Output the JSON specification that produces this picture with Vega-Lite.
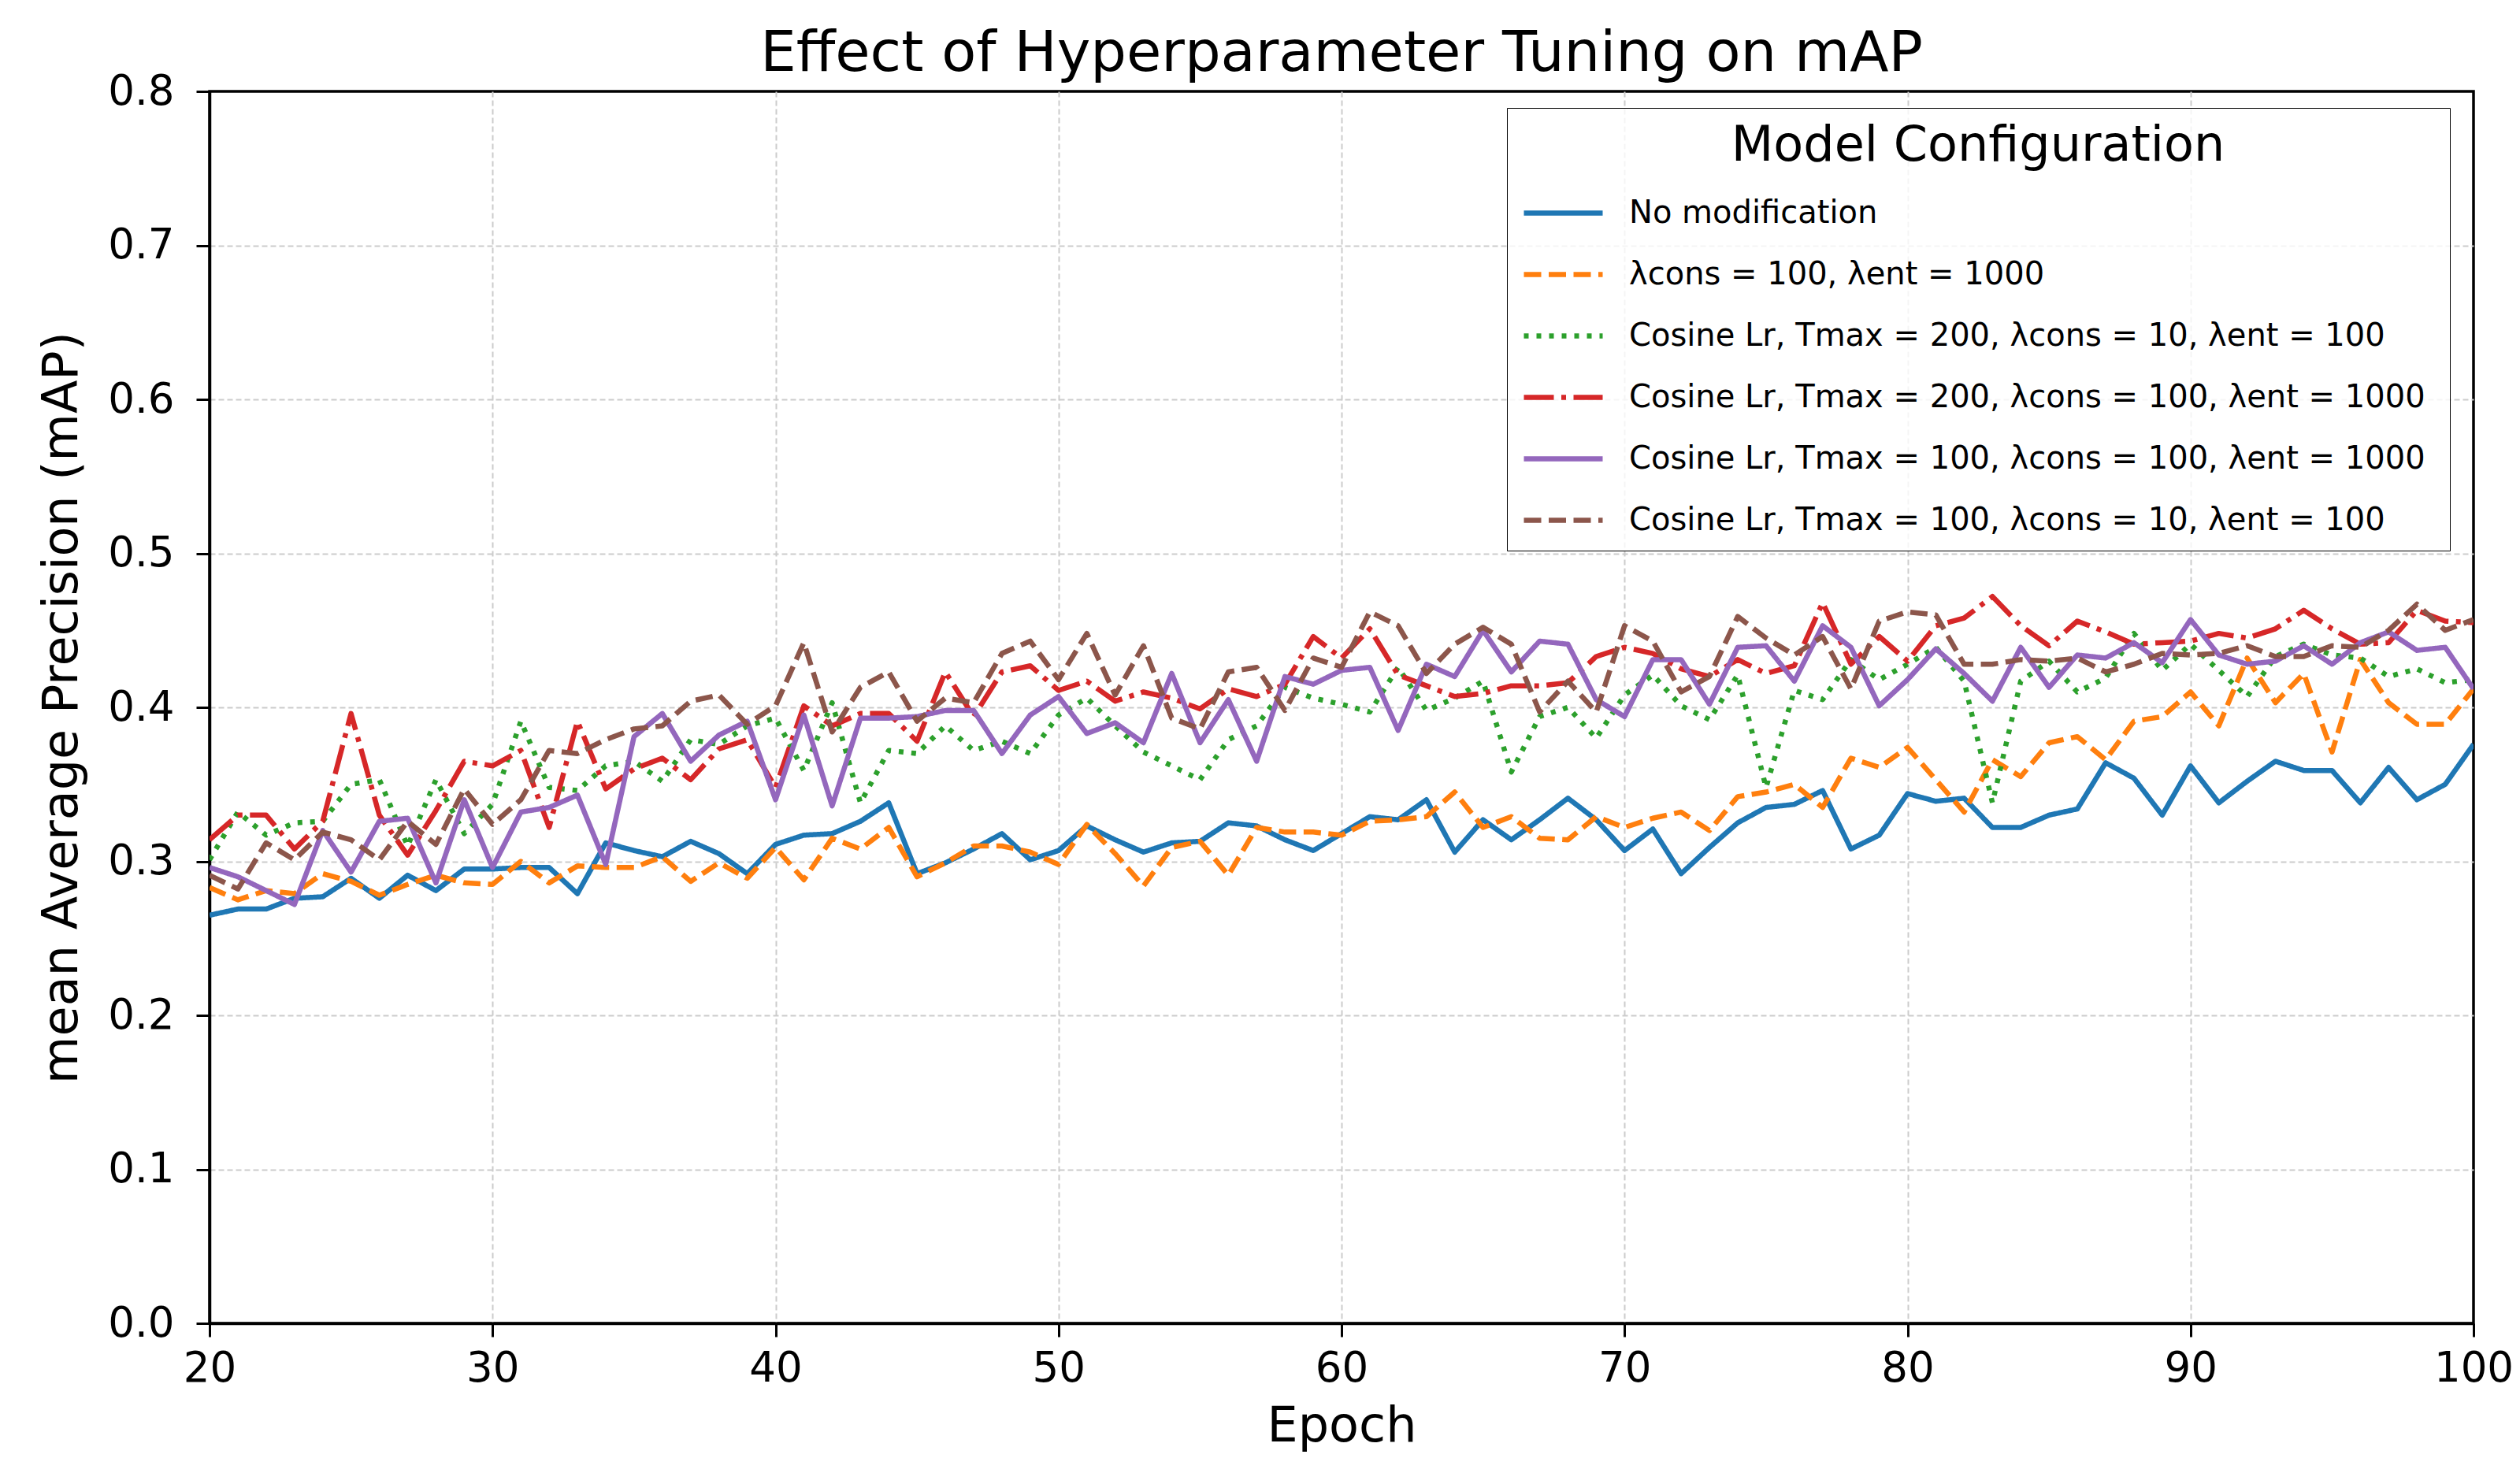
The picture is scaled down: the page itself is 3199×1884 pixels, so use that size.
{
  "$schema": "https://vega.github.io/schema/vega-lite/v6.json",
  "description": "Effect of hyperparameter tuning on mAP, six model configurations over epochs 20-100",
  "width": 2874,
  "height": 1564,
  "autosize": {"type": "none"},
  "padding": {"left": 266, "top": 116, "right": 59, "bottom": 204},
  "background": "white",
  "title": {
    "text": "Effect of Hyperparameter Tuning on mAP",
    "fontSize": 72,
    "fontWeight": "normal",
    "anchor": "middle",
    "baseline": "bottom",
    "offset": 12,
    "dy": 99,
    "color": "#000000"
  },
  "data": {
    "values": [
      {"epoch": 20, "config": "S1", "mAP": 0.265}, {"epoch": 21, "config": "S1", "mAP": 0.269}, {"epoch": 22, "config": "S1", "mAP": 0.269}, {"epoch": 23, "config": "S1", "mAP": 0.276}, {"epoch": 24, "config": "S1", "mAP": 0.277}, {"epoch": 25, "config": "S1", "mAP": 0.289}, {"epoch": 26, "config": "S1", "mAP": 0.276}, {"epoch": 27, "config": "S1", "mAP": 0.291}, {"epoch": 28, "config": "S1", "mAP": 0.281}, {"epoch": 29, "config": "S1", "mAP": 0.295}, {"epoch": 30, "config": "S1", "mAP": 0.295},
      {"epoch": 31, "config": "S1", "mAP": 0.296}, {"epoch": 32, "config": "S1", "mAP": 0.296}, {"epoch": 33, "config": "S1", "mAP": 0.279}, {"epoch": 34, "config": "S1", "mAP": 0.312}, {"epoch": 35, "config": "S1", "mAP": 0.307}, {"epoch": 36, "config": "S1", "mAP": 0.303}, {"epoch": 37, "config": "S1", "mAP": 0.313}, {"epoch": 38, "config": "S1", "mAP": 0.305}, {"epoch": 39, "config": "S1", "mAP": 0.292}, {"epoch": 40, "config": "S1", "mAP": 0.311},
      {"epoch": 41, "config": "S1", "mAP": 0.317}, {"epoch": 42, "config": "S1", "mAP": 0.318}, {"epoch": 43, "config": "S1", "mAP": 0.326}, {"epoch": 44, "config": "S1", "mAP": 0.338}, {"epoch": 45, "config": "S1", "mAP": 0.292}, {"epoch": 46, "config": "S1", "mAP": 0.299}, {"epoch": 47, "config": "S1", "mAP": 0.308}, {"epoch": 48, "config": "S1", "mAP": 0.318}, {"epoch": 49, "config": "S1", "mAP": 0.301}, {"epoch": 50, "config": "S1", "mAP": 0.307},
      {"epoch": 51, "config": "S1", "mAP": 0.323}, {"epoch": 52, "config": "S1", "mAP": 0.314}, {"epoch": 53, "config": "S1", "mAP": 0.306}, {"epoch": 54, "config": "S1", "mAP": 0.312}, {"epoch": 55, "config": "S1", "mAP": 0.313}, {"epoch": 56, "config": "S1", "mAP": 0.325}, {"epoch": 57, "config": "S1", "mAP": 0.323}, {"epoch": 58, "config": "S1", "mAP": 0.314}, {"epoch": 59, "config": "S1", "mAP": 0.307}, {"epoch": 60, "config": "S1", "mAP": 0.318},
      {"epoch": 61, "config": "S1", "mAP": 0.329}, {"epoch": 62, "config": "S1", "mAP": 0.327}, {"epoch": 63, "config": "S1", "mAP": 0.340}, {"epoch": 64, "config": "S1", "mAP": 0.306}, {"epoch": 65, "config": "S1", "mAP": 0.327}, {"epoch": 66, "config": "S1", "mAP": 0.314}, {"epoch": 67, "config": "S1", "mAP": 0.327}, {"epoch": 68, "config": "S1", "mAP": 0.341}, {"epoch": 69, "config": "S1", "mAP": 0.327}, {"epoch": 70, "config": "S1", "mAP": 0.307},
      {"epoch": 71, "config": "S1", "mAP": 0.321}, {"epoch": 72, "config": "S1", "mAP": 0.292}, {"epoch": 73, "config": "S1", "mAP": 0.309}, {"epoch": 74, "config": "S1", "mAP": 0.325}, {"epoch": 75, "config": "S1", "mAP": 0.335}, {"epoch": 76, "config": "S1", "mAP": 0.337}, {"epoch": 77, "config": "S1", "mAP": 0.346}, {"epoch": 78, "config": "S1", "mAP": 0.308}, {"epoch": 79, "config": "S1", "mAP": 0.317}, {"epoch": 80, "config": "S1", "mAP": 0.344},
      {"epoch": 81, "config": "S1", "mAP": 0.339}, {"epoch": 82, "config": "S1", "mAP": 0.341}, {"epoch": 83, "config": "S1", "mAP": 0.322}, {"epoch": 84, "config": "S1", "mAP": 0.322}, {"epoch": 85, "config": "S1", "mAP": 0.330}, {"epoch": 86, "config": "S1", "mAP": 0.334}, {"epoch": 87, "config": "S1", "mAP": 0.364}, {"epoch": 88, "config": "S1", "mAP": 0.354}, {"epoch": 89, "config": "S1", "mAP": 0.330}, {"epoch": 90, "config": "S1", "mAP": 0.362},
      {"epoch": 91, "config": "S1", "mAP": 0.338}, {"epoch": 92, "config": "S1", "mAP": 0.352}, {"epoch": 93, "config": "S1", "mAP": 0.365}, {"epoch": 94, "config": "S1", "mAP": 0.359}, {"epoch": 95, "config": "S1", "mAP": 0.359}, {"epoch": 96, "config": "S1", "mAP": 0.338}, {"epoch": 97, "config": "S1", "mAP": 0.361}, {"epoch": 98, "config": "S1", "mAP": 0.340}, {"epoch": 99, "config": "S1", "mAP": 0.350}, {"epoch": 100, "config": "S1", "mAP": 0.376},

      {"epoch": 20, "config": "S2", "mAP": 0.283}, {"epoch": 21, "config": "S2", "mAP": 0.275}, {"epoch": 22, "config": "S2", "mAP": 0.281}, {"epoch": 23, "config": "S2", "mAP": 0.279}, {"epoch": 24, "config": "S2", "mAP": 0.292}, {"epoch": 25, "config": "S2", "mAP": 0.287}, {"epoch": 26, "config": "S2", "mAP": 0.278}, {"epoch": 27, "config": "S2", "mAP": 0.285}, {"epoch": 28, "config": "S2", "mAP": 0.291}, {"epoch": 29, "config": "S2", "mAP": 0.286}, {"epoch": 30, "config": "S2", "mAP": 0.285},
      {"epoch": 31, "config": "S2", "mAP": 0.300}, {"epoch": 32, "config": "S2", "mAP": 0.286}, {"epoch": 33, "config": "S2", "mAP": 0.297}, {"epoch": 34, "config": "S2", "mAP": 0.296}, {"epoch": 35, "config": "S2", "mAP": 0.296}, {"epoch": 36, "config": "S2", "mAP": 0.303}, {"epoch": 37, "config": "S2", "mAP": 0.287}, {"epoch": 38, "config": "S2", "mAP": 0.299}, {"epoch": 39, "config": "S2", "mAP": 0.289}, {"epoch": 40, "config": "S2", "mAP": 0.309},
      {"epoch": 41, "config": "S2", "mAP": 0.288}, {"epoch": 42, "config": "S2", "mAP": 0.315}, {"epoch": 43, "config": "S2", "mAP": 0.308}, {"epoch": 44, "config": "S2", "mAP": 0.322}, {"epoch": 45, "config": "S2", "mAP": 0.290}, {"epoch": 46, "config": "S2", "mAP": 0.299}, {"epoch": 47, "config": "S2", "mAP": 0.310}, {"epoch": 48, "config": "S2", "mAP": 0.310}, {"epoch": 49, "config": "S2", "mAP": 0.306}, {"epoch": 50, "config": "S2", "mAP": 0.298},
      {"epoch": 51, "config": "S2", "mAP": 0.324}, {"epoch": 52, "config": "S2", "mAP": 0.305}, {"epoch": 53, "config": "S2", "mAP": 0.284}, {"epoch": 54, "config": "S2", "mAP": 0.309}, {"epoch": 55, "config": "S2", "mAP": 0.313}, {"epoch": 56, "config": "S2", "mAP": 0.291}, {"epoch": 57, "config": "S2", "mAP": 0.322}, {"epoch": 58, "config": "S2", "mAP": 0.319}, {"epoch": 59, "config": "S2", "mAP": 0.319}, {"epoch": 60, "config": "S2", "mAP": 0.317},
      {"epoch": 61, "config": "S2", "mAP": 0.326}, {"epoch": 62, "config": "S2", "mAP": 0.327}, {"epoch": 63, "config": "S2", "mAP": 0.329}, {"epoch": 64, "config": "S2", "mAP": 0.345}, {"epoch": 65, "config": "S2", "mAP": 0.322}, {"epoch": 66, "config": "S2", "mAP": 0.329}, {"epoch": 67, "config": "S2", "mAP": 0.315}, {"epoch": 68, "config": "S2", "mAP": 0.314}, {"epoch": 69, "config": "S2", "mAP": 0.329}, {"epoch": 70, "config": "S2", "mAP": 0.322},
      {"epoch": 71, "config": "S2", "mAP": 0.328}, {"epoch": 72, "config": "S2", "mAP": 0.332}, {"epoch": 73, "config": "S2", "mAP": 0.320}, {"epoch": 74, "config": "S2", "mAP": 0.342}, {"epoch": 75, "config": "S2", "mAP": 0.345}, {"epoch": 76, "config": "S2", "mAP": 0.350}, {"epoch": 77, "config": "S2", "mAP": 0.335}, {"epoch": 78, "config": "S2", "mAP": 0.367}, {"epoch": 79, "config": "S2", "mAP": 0.361}, {"epoch": 80, "config": "S2", "mAP": 0.374},
      {"epoch": 81, "config": "S2", "mAP": 0.353}, {"epoch": 82, "config": "S2", "mAP": 0.332}, {"epoch": 83, "config": "S2", "mAP": 0.366}, {"epoch": 84, "config": "S2", "mAP": 0.355}, {"epoch": 85, "config": "S2", "mAP": 0.377}, {"epoch": 86, "config": "S2", "mAP": 0.381}, {"epoch": 87, "config": "S2", "mAP": 0.366}, {"epoch": 88, "config": "S2", "mAP": 0.391}, {"epoch": 89, "config": "S2", "mAP": 0.394}, {"epoch": 90, "config": "S2", "mAP": 0.410},
      {"epoch": 91, "config": "S2", "mAP": 0.388}, {"epoch": 92, "config": "S2", "mAP": 0.432}, {"epoch": 93, "config": "S2", "mAP": 0.403}, {"epoch": 94, "config": "S2", "mAP": 0.422}, {"epoch": 95, "config": "S2", "mAP": 0.371}, {"epoch": 96, "config": "S2", "mAP": 0.431}, {"epoch": 97, "config": "S2", "mAP": 0.403}, {"epoch": 98, "config": "S2", "mAP": 0.389}, {"epoch": 99, "config": "S2", "mAP": 0.389}, {"epoch": 100, "config": "S2", "mAP": 0.412},

      {"epoch": 20, "config": "S3", "mAP": 0.301}, {"epoch": 21, "config": "S3", "mAP": 0.332}, {"epoch": 22, "config": "S3", "mAP": 0.317}, {"epoch": 23, "config": "S3", "mAP": 0.325}, {"epoch": 24, "config": "S3", "mAP": 0.326}, {"epoch": 25, "config": "S3", "mAP": 0.350}, {"epoch": 26, "config": "S3", "mAP": 0.353}, {"epoch": 27, "config": "S3", "mAP": 0.310}, {"epoch": 28, "config": "S3", "mAP": 0.353}, {"epoch": 29, "config": "S3", "mAP": 0.318}, {"epoch": 30, "config": "S3", "mAP": 0.337},
      {"epoch": 31, "config": "S3", "mAP": 0.391}, {"epoch": 32, "config": "S3", "mAP": 0.348}, {"epoch": 33, "config": "S3", "mAP": 0.346}, {"epoch": 34, "config": "S3", "mAP": 0.362}, {"epoch": 35, "config": "S3", "mAP": 0.365}, {"epoch": 36, "config": "S3", "mAP": 0.352}, {"epoch": 37, "config": "S3", "mAP": 0.379}, {"epoch": 38, "config": "S3", "mAP": 0.376}, {"epoch": 39, "config": "S3", "mAP": 0.388}, {"epoch": 40, "config": "S3", "mAP": 0.393},
      {"epoch": 41, "config": "S3", "mAP": 0.359}, {"epoch": 42, "config": "S3", "mAP": 0.403}, {"epoch": 43, "config": "S3", "mAP": 0.338}, {"epoch": 44, "config": "S3", "mAP": 0.372}, {"epoch": 45, "config": "S3", "mAP": 0.370}, {"epoch": 46, "config": "S3", "mAP": 0.388}, {"epoch": 47, "config": "S3", "mAP": 0.372}, {"epoch": 48, "config": "S3", "mAP": 0.378}, {"epoch": 49, "config": "S3", "mAP": 0.370}, {"epoch": 50, "config": "S3", "mAP": 0.395},
      {"epoch": 51, "config": "S3", "mAP": 0.406}, {"epoch": 52, "config": "S3", "mAP": 0.388}, {"epoch": 53, "config": "S3", "mAP": 0.371}, {"epoch": 54, "config": "S3", "mAP": 0.362}, {"epoch": 55, "config": "S3", "mAP": 0.353}, {"epoch": 56, "config": "S3", "mAP": 0.379}, {"epoch": 57, "config": "S3", "mAP": 0.388}, {"epoch": 58, "config": "S3", "mAP": 0.413}, {"epoch": 59, "config": "S3", "mAP": 0.406}, {"epoch": 60, "config": "S3", "mAP": 0.402},
      {"epoch": 61, "config": "S3", "mAP": 0.397}, {"epoch": 62, "config": "S3", "mAP": 0.426}, {"epoch": 63, "config": "S3", "mAP": 0.398}, {"epoch": 64, "config": "S3", "mAP": 0.406}, {"epoch": 65, "config": "S3", "mAP": 0.417}, {"epoch": 66, "config": "S3", "mAP": 0.358}, {"epoch": 67, "config": "S3", "mAP": 0.394}, {"epoch": 68, "config": "S3", "mAP": 0.400}, {"epoch": 69, "config": "S3", "mAP": 0.380}, {"epoch": 70, "config": "S3", "mAP": 0.408},
      {"epoch": 71, "config": "S3", "mAP": 0.421}, {"epoch": 72, "config": "S3", "mAP": 0.401}, {"epoch": 73, "config": "S3", "mAP": 0.392}, {"epoch": 74, "config": "S3", "mAP": 0.421}, {"epoch": 75, "config": "S3", "mAP": 0.348}, {"epoch": 76, "config": "S3", "mAP": 0.411}, {"epoch": 77, "config": "S3", "mAP": 0.405}, {"epoch": 78, "config": "S3", "mAP": 0.431}, {"epoch": 79, "config": "S3", "mAP": 0.418}, {"epoch": 80, "config": "S3", "mAP": 0.428},
      {"epoch": 81, "config": "S3", "mAP": 0.439}, {"epoch": 82, "config": "S3", "mAP": 0.417}, {"epoch": 83, "config": "S3", "mAP": 0.338}, {"epoch": 84, "config": "S3", "mAP": 0.417}, {"epoch": 85, "config": "S3", "mAP": 0.430}, {"epoch": 86, "config": "S3", "mAP": 0.410}, {"epoch": 87, "config": "S3", "mAP": 0.419}, {"epoch": 88, "config": "S3", "mAP": 0.448}, {"epoch": 89, "config": "S3", "mAP": 0.424}, {"epoch": 90, "config": "S3", "mAP": 0.441},
      {"epoch": 91, "config": "S3", "mAP": 0.424}, {"epoch": 92, "config": "S3", "mAP": 0.407}, {"epoch": 93, "config": "S3", "mAP": 0.433}, {"epoch": 94, "config": "S3", "mAP": 0.441}, {"epoch": 95, "config": "S3", "mAP": 0.434}, {"epoch": 96, "config": "S3", "mAP": 0.432}, {"epoch": 97, "config": "S3", "mAP": 0.420}, {"epoch": 98, "config": "S3", "mAP": 0.425}, {"epoch": 99, "config": "S3", "mAP": 0.416}, {"epoch": 100, "config": "S3", "mAP": 0.418},

      {"epoch": 20, "config": "S4", "mAP": 0.314}, {"epoch": 21, "config": "S4", "mAP": 0.330}, {"epoch": 22, "config": "S4", "mAP": 0.330}, {"epoch": 23, "config": "S4", "mAP": 0.308}, {"epoch": 24, "config": "S4", "mAP": 0.326}, {"epoch": 25, "config": "S4", "mAP": 0.396}, {"epoch": 26, "config": "S4", "mAP": 0.330}, {"epoch": 27, "config": "S4", "mAP": 0.304}, {"epoch": 28, "config": "S4", "mAP": 0.333}, {"epoch": 29, "config": "S4", "mAP": 0.365}, {"epoch": 30, "config": "S4", "mAP": 0.362},
      {"epoch": 31, "config": "S4", "mAP": 0.372}, {"epoch": 32, "config": "S4", "mAP": 0.322}, {"epoch": 33, "config": "S4", "mAP": 0.391}, {"epoch": 34, "config": "S4", "mAP": 0.347}, {"epoch": 35, "config": "S4", "mAP": 0.360}, {"epoch": 36, "config": "S4", "mAP": 0.367}, {"epoch": 37, "config": "S4", "mAP": 0.353}, {"epoch": 38, "config": "S4", "mAP": 0.373}, {"epoch": 39, "config": "S4", "mAP": 0.379}, {"epoch": 40, "config": "S4", "mAP": 0.348},
      {"epoch": 41, "config": "S4", "mAP": 0.401}, {"epoch": 42, "config": "S4", "mAP": 0.388}, {"epoch": 43, "config": "S4", "mAP": 0.396}, {"epoch": 44, "config": "S4", "mAP": 0.396}, {"epoch": 45, "config": "S4", "mAP": 0.378}, {"epoch": 46, "config": "S4", "mAP": 0.423}, {"epoch": 47, "config": "S4", "mAP": 0.394}, {"epoch": 48, "config": "S4", "mAP": 0.423}, {"epoch": 49, "config": "S4", "mAP": 0.427}, {"epoch": 50, "config": "S4", "mAP": 0.411},
      {"epoch": 51, "config": "S4", "mAP": 0.417}, {"epoch": 52, "config": "S4", "mAP": 0.404}, {"epoch": 53, "config": "S4", "mAP": 0.410}, {"epoch": 54, "config": "S4", "mAP": 0.406}, {"epoch": 55, "config": "S4", "mAP": 0.399}, {"epoch": 56, "config": "S4", "mAP": 0.412}, {"epoch": 57, "config": "S4", "mAP": 0.407}, {"epoch": 58, "config": "S4", "mAP": 0.415}, {"epoch": 59, "config": "S4", "mAP": 0.446}, {"epoch": 60, "config": "S4", "mAP": 0.432},
      {"epoch": 61, "config": "S4", "mAP": 0.451}, {"epoch": 62, "config": "S4", "mAP": 0.421}, {"epoch": 63, "config": "S4", "mAP": 0.414}, {"epoch": 64, "config": "S4", "mAP": 0.407}, {"epoch": 65, "config": "S4", "mAP": 0.409}, {"epoch": 66, "config": "S4", "mAP": 0.414}, {"epoch": 67, "config": "S4", "mAP": 0.414}, {"epoch": 68, "config": "S4", "mAP": 0.416}, {"epoch": 69, "config": "S4", "mAP": 0.433}, {"epoch": 70, "config": "S4", "mAP": 0.439},
      {"epoch": 71, "config": "S4", "mAP": 0.435}, {"epoch": 72, "config": "S4", "mAP": 0.425}, {"epoch": 73, "config": "S4", "mAP": 0.420}, {"epoch": 74, "config": "S4", "mAP": 0.431}, {"epoch": 75, "config": "S4", "mAP": 0.422}, {"epoch": 76, "config": "S4", "mAP": 0.427}, {"epoch": 77, "config": "S4", "mAP": 0.468}, {"epoch": 78, "config": "S4", "mAP": 0.428}, {"epoch": 79, "config": "S4", "mAP": 0.446}, {"epoch": 80, "config": "S4", "mAP": 0.430},
      {"epoch": 81, "config": "S4", "mAP": 0.453}, {"epoch": 82, "config": "S4", "mAP": 0.458}, {"epoch": 83, "config": "S4", "mAP": 0.472}, {"epoch": 84, "config": "S4", "mAP": 0.453}, {"epoch": 85, "config": "S4", "mAP": 0.440}, {"epoch": 86, "config": "S4", "mAP": 0.456}, {"epoch": 87, "config": "S4", "mAP": 0.449}, {"epoch": 88, "config": "S4", "mAP": 0.441}, {"epoch": 89, "config": "S4", "mAP": 0.442}, {"epoch": 90, "config": "S4", "mAP": 0.443},
      {"epoch": 91, "config": "S4", "mAP": 0.448}, {"epoch": 92, "config": "S4", "mAP": 0.445}, {"epoch": 93, "config": "S4", "mAP": 0.451}, {"epoch": 94, "config": "S4", "mAP": 0.463}, {"epoch": 95, "config": "S4", "mAP": 0.451}, {"epoch": 96, "config": "S4", "mAP": 0.441}, {"epoch": 97, "config": "S4", "mAP": 0.442}, {"epoch": 98, "config": "S4", "mAP": 0.463}, {"epoch": 99, "config": "S4", "mAP": 0.456}, {"epoch": 100, "config": "S4", "mAP": 0.455},

      {"epoch": 20, "config": "S5", "mAP": 0.296}, {"epoch": 21, "config": "S5", "mAP": 0.290}, {"epoch": 22, "config": "S5", "mAP": 0.281}, {"epoch": 23, "config": "S5", "mAP": 0.272}, {"epoch": 24, "config": "S5", "mAP": 0.320}, {"epoch": 25, "config": "S5", "mAP": 0.293}, {"epoch": 26, "config": "S5", "mAP": 0.326}, {"epoch": 27, "config": "S5", "mAP": 0.328}, {"epoch": 28, "config": "S5", "mAP": 0.286}, {"epoch": 29, "config": "S5", "mAP": 0.340}, {"epoch": 30, "config": "S5", "mAP": 0.296},
      {"epoch": 31, "config": "S5", "mAP": 0.332}, {"epoch": 32, "config": "S5", "mAP": 0.335}, {"epoch": 33, "config": "S5", "mAP": 0.343}, {"epoch": 34, "config": "S5", "mAP": 0.298}, {"epoch": 35, "config": "S5", "mAP": 0.381}, {"epoch": 36, "config": "S5", "mAP": 0.396}, {"epoch": 37, "config": "S5", "mAP": 0.365}, {"epoch": 38, "config": "S5", "mAP": 0.382}, {"epoch": 39, "config": "S5", "mAP": 0.391}, {"epoch": 40, "config": "S5", "mAP": 0.340},
      {"epoch": 41, "config": "S5", "mAP": 0.395}, {"epoch": 42, "config": "S5", "mAP": 0.336}, {"epoch": 43, "config": "S5", "mAP": 0.393}, {"epoch": 44, "config": "S5", "mAP": 0.393}, {"epoch": 45, "config": "S5", "mAP": 0.394}, {"epoch": 46, "config": "S5", "mAP": 0.398}, {"epoch": 47, "config": "S5", "mAP": 0.398}, {"epoch": 48, "config": "S5", "mAP": 0.370}, {"epoch": 49, "config": "S5", "mAP": 0.395}, {"epoch": 50, "config": "S5", "mAP": 0.407},
      {"epoch": 51, "config": "S5", "mAP": 0.383}, {"epoch": 52, "config": "S5", "mAP": 0.390}, {"epoch": 53, "config": "S5", "mAP": 0.377}, {"epoch": 54, "config": "S5", "mAP": 0.422}, {"epoch": 55, "config": "S5", "mAP": 0.377}, {"epoch": 56, "config": "S5", "mAP": 0.405}, {"epoch": 57, "config": "S5", "mAP": 0.365}, {"epoch": 58, "config": "S5", "mAP": 0.420}, {"epoch": 59, "config": "S5", "mAP": 0.415}, {"epoch": 60, "config": "S5", "mAP": 0.424},
      {"epoch": 61, "config": "S5", "mAP": 0.426}, {"epoch": 62, "config": "S5", "mAP": 0.385}, {"epoch": 63, "config": "S5", "mAP": 0.428}, {"epoch": 64, "config": "S5", "mAP": 0.420}, {"epoch": 65, "config": "S5", "mAP": 0.450}, {"epoch": 66, "config": "S5", "mAP": 0.423}, {"epoch": 67, "config": "S5", "mAP": 0.443}, {"epoch": 68, "config": "S5", "mAP": 0.441}, {"epoch": 69, "config": "S5", "mAP": 0.405}, {"epoch": 70, "config": "S5", "mAP": 0.394},
      {"epoch": 71, "config": "S5", "mAP": 0.431}, {"epoch": 72, "config": "S5", "mAP": 0.431}, {"epoch": 73, "config": "S5", "mAP": 0.402}, {"epoch": 74, "config": "S5", "mAP": 0.439}, {"epoch": 75, "config": "S5", "mAP": 0.440}, {"epoch": 76, "config": "S5", "mAP": 0.417}, {"epoch": 77, "config": "S5", "mAP": 0.453}, {"epoch": 78, "config": "S5", "mAP": 0.439}, {"epoch": 79, "config": "S5", "mAP": 0.401}, {"epoch": 80, "config": "S5", "mAP": 0.418},
      {"epoch": 81, "config": "S5", "mAP": 0.438}, {"epoch": 82, "config": "S5", "mAP": 0.422}, {"epoch": 83, "config": "S5", "mAP": 0.404}, {"epoch": 84, "config": "S5", "mAP": 0.439}, {"epoch": 85, "config": "S5", "mAP": 0.413}, {"epoch": 86, "config": "S5", "mAP": 0.434}, {"epoch": 87, "config": "S5", "mAP": 0.432}, {"epoch": 88, "config": "S5", "mAP": 0.442}, {"epoch": 89, "config": "S5", "mAP": 0.429}, {"epoch": 90, "config": "S5", "mAP": 0.457},
      {"epoch": 91, "config": "S5", "mAP": 0.434}, {"epoch": 92, "config": "S5", "mAP": 0.428}, {"epoch": 93, "config": "S5", "mAP": 0.430}, {"epoch": 94, "config": "S5", "mAP": 0.440}, {"epoch": 95, "config": "S5", "mAP": 0.428}, {"epoch": 96, "config": "S5", "mAP": 0.442}, {"epoch": 97, "config": "S5", "mAP": 0.449}, {"epoch": 98, "config": "S5", "mAP": 0.437}, {"epoch": 99, "config": "S5", "mAP": 0.439}, {"epoch": 100, "config": "S5", "mAP": 0.412},

      {"epoch": 20, "config": "S6", "mAP": 0.291}, {"epoch": 21, "config": "S6", "mAP": 0.282}, {"epoch": 22, "config": "S6", "mAP": 0.312}, {"epoch": 23, "config": "S6", "mAP": 0.301}, {"epoch": 24, "config": "S6", "mAP": 0.319}, {"epoch": 25, "config": "S6", "mAP": 0.314}, {"epoch": 26, "config": "S6", "mAP": 0.301}, {"epoch": 27, "config": "S6", "mAP": 0.326}, {"epoch": 28, "config": "S6", "mAP": 0.311}, {"epoch": 29, "config": "S6", "mAP": 0.347}, {"epoch": 30, "config": "S6", "mAP": 0.324},
      {"epoch": 31, "config": "S6", "mAP": 0.340}, {"epoch": 32, "config": "S6", "mAP": 0.372}, {"epoch": 33, "config": "S6", "mAP": 0.370}, {"epoch": 34, "config": "S6", "mAP": 0.379}, {"epoch": 35, "config": "S6", "mAP": 0.386}, {"epoch": 36, "config": "S6", "mAP": 0.388}, {"epoch": 37, "config": "S6", "mAP": 0.404}, {"epoch": 38, "config": "S6", "mAP": 0.408}, {"epoch": 39, "config": "S6", "mAP": 0.389}, {"epoch": 40, "config": "S6", "mAP": 0.401},
      {"epoch": 41, "config": "S6", "mAP": 0.442}, {"epoch": 42, "config": "S6", "mAP": 0.384}, {"epoch": 43, "config": "S6", "mAP": 0.413}, {"epoch": 44, "config": "S6", "mAP": 0.423}, {"epoch": 45, "config": "S6", "mAP": 0.391}, {"epoch": 46, "config": "S6", "mAP": 0.406}, {"epoch": 47, "config": "S6", "mAP": 0.403}, {"epoch": 48, "config": "S6", "mAP": 0.435}, {"epoch": 49, "config": "S6", "mAP": 0.443}, {"epoch": 50, "config": "S6", "mAP": 0.418},
      {"epoch": 51, "config": "S6", "mAP": 0.448}, {"epoch": 52, "config": "S6", "mAP": 0.408}, {"epoch": 53, "config": "S6", "mAP": 0.440}, {"epoch": 54, "config": "S6", "mAP": 0.393}, {"epoch": 55, "config": "S6", "mAP": 0.386}, {"epoch": 56, "config": "S6", "mAP": 0.423}, {"epoch": 57, "config": "S6", "mAP": 0.426}, {"epoch": 58, "config": "S6", "mAP": 0.398}, {"epoch": 59, "config": "S6", "mAP": 0.432}, {"epoch": 60, "config": "S6", "mAP": 0.426},
      {"epoch": 61, "config": "S6", "mAP": 0.462}, {"epoch": 62, "config": "S6", "mAP": 0.453}, {"epoch": 63, "config": "S6", "mAP": 0.422}, {"epoch": 64, "config": "S6", "mAP": 0.441}, {"epoch": 65, "config": "S6", "mAP": 0.452}, {"epoch": 66, "config": "S6", "mAP": 0.441}, {"epoch": 67, "config": "S6", "mAP": 0.397}, {"epoch": 68, "config": "S6", "mAP": 0.417}, {"epoch": 69, "config": "S6", "mAP": 0.397}, {"epoch": 70, "config": "S6", "mAP": 0.453},
      {"epoch": 71, "config": "S6", "mAP": 0.443}, {"epoch": 72, "config": "S6", "mAP": 0.410}, {"epoch": 73, "config": "S6", "mAP": 0.420}, {"epoch": 74, "config": "S6", "mAP": 0.459}, {"epoch": 75, "config": "S6", "mAP": 0.445}, {"epoch": 76, "config": "S6", "mAP": 0.434}, {"epoch": 77, "config": "S6", "mAP": 0.446}, {"epoch": 78, "config": "S6", "mAP": 0.412}, {"epoch": 79, "config": "S6", "mAP": 0.456}, {"epoch": 80, "config": "S6", "mAP": 0.462},
      {"epoch": 81, "config": "S6", "mAP": 0.460}, {"epoch": 82, "config": "S6", "mAP": 0.428}, {"epoch": 83, "config": "S6", "mAP": 0.428}, {"epoch": 84, "config": "S6", "mAP": 0.431}, {"epoch": 85, "config": "S6", "mAP": 0.430}, {"epoch": 86, "config": "S6", "mAP": 0.432}, {"epoch": 87, "config": "S6", "mAP": 0.423}, {"epoch": 88, "config": "S6", "mAP": 0.428}, {"epoch": 89, "config": "S6", "mAP": 0.435}, {"epoch": 90, "config": "S6", "mAP": 0.434},
      {"epoch": 91, "config": "S6", "mAP": 0.435}, {"epoch": 92, "config": "S6", "mAP": 0.440}, {"epoch": 93, "config": "S6", "mAP": 0.433}, {"epoch": 94, "config": "S6", "mAP": 0.433}, {"epoch": 95, "config": "S6", "mAP": 0.440}, {"epoch": 96, "config": "S6", "mAP": 0.439}, {"epoch": 97, "config": "S6", "mAP": 0.450}, {"epoch": 98, "config": "S6", "mAP": 0.467}, {"epoch": 99, "config": "S6", "mAP": 0.450}, {"epoch": 100, "config": "S6", "mAP": 0.457}
    ]
  },
  "mark": {"type": "line", "strokeWidth": 6.5, "strokeCap": "butt", "strokeJoin": "round", "clip": true},
  "encoding": {
    "x": {
      "field": "epoch",
      "type": "quantitative",
      "title": "Epoch",
      "scale": {"domain": [20, 100], "nice": false, "zero": false},
      "axis": {
        "values": [20, 30, 40, 50, 60, 70, 80, 90, 100],
        "format": "d",
        "labelPadding": 14,
        "titlePadding": 16,
        "gridOpacity": {"condition": {"test": "datum.value === 20 || datum.value === 100", "value": 0}, "value": 1}
      }
    },
    "y": {
      "field": "mAP",
      "type": "quantitative",
      "title": "mean Average Precision (mAP)",
      "scale": {"domain": [0, 0.8], "nice": false, "zero": false},
      "axis": {
        "values": [0, 0.1, 0.2, 0.3, 0.4, 0.5, 0.6, 0.7, 0.8],
        "format": ".1f",
        "labelPadding": 28,
        "titlePadding": 26,
        "gridOpacity": {"condition": {"test": "datum.value === 0 || datum.value === 0.8", "value": 0}, "value": 1}
      }
    },
    "color": {
      "field": "config",
      "type": "nominal",
      "title": "Model Configuration",
      "scale": {
        "domain": ["S1", "S2", "S3", "S4", "S5", "S6"],
        "range": ["#1f77b4", "#ff7f0e", "#2ca02c", "#d62728", "#9467bd", "#8c564b"]
      },
      "legend": {
        "orient": "none",
        "legendX": 1647,
        "legendY": 21,
        "labelExpr": "['No modification', 'λcons = 100, λent = 1000', 'Cosine Lr,  Tmax = 200, λcons = 10, λent = 100', 'Cosine Lr,  Tmax = 200, λcons = 100, λent = 1000', 'Cosine Lr,  Tmax = 100, λcons = 100, λent = 1000', 'Cosine Lr,  Tmax = 100, λcons = 10, λent = 100'][indexof(['S1', 'S2', 'S3', 'S4', 'S5', 'S6'], datum.label)]"
      }
    },
    "strokeDash": {
      "field": "config",
      "type": "nominal",
      "title": "Model Configuration",
      "scale": {
        "domain": ["S1", "S2", "S3", "S4", "S5", "S6"],
        "range": [[1, 0], [22, 9.5], [6, 10], [38, 9.5, 6, 9.5], [1, 0], [22, 9.5]]
      },
      "legend": {
        "orient": "none",
        "legendX": 1647,
        "legendY": 21,
        "labelExpr": "['No modification', 'λcons = 100, λent = 1000', 'Cosine Lr,  Tmax = 200, λcons = 10, λent = 100', 'Cosine Lr,  Tmax = 200, λcons = 100, λent = 1000', 'Cosine Lr,  Tmax = 100, λcons = 100, λent = 1000', 'Cosine Lr,  Tmax = 100, λcons = 10, λent = 100'][indexof(['S1', 'S2', 'S3', 'S4', 'S5', 'S6'], datum.label)]"
      }
    }
  },
  "config": {
    "font": "DejaVu Sans",
    "view": {"stroke": "#000000", "strokeWidth": 3.5},
    "axis": {
      "domainColor": "#000000",
      "domainWidth": 3.5,
      "tickColor": "#000000",
      "tickWidth": 3,
      "tickSize": 17,
      "labelColor": "#000000",
      "labelFontSize": 53,
      "labelFlush": false,
      "labelOverlap": false,
      "labelBound": false,
      "titleColor": "#000000",
      "titleFontSize": 62,
      "titleFontWeight": "normal",
      "grid": true,
      "gridColor": "#cccccc",
      "gridDash": [7, 4],
      "gridWidth": 2
    },
    "legend": {
      "padding": 18,
      "strokeColor": "#000000",
      "fillColor": "rgba(255,255,255,0.8)",
      "cornerRadius": 0,
      "titleFontSize": 62,
      "titleFontWeight": "normal",
      "titleColor": "#000000",
      "titleAnchor": "middle",
      "titleLimit": 2000,
      "titlePadding": 0,
      "labelFontSize": 40,
      "labelColor": "#000000",
      "labelLimit": 2000,
      "labelOffset": 30,
      "symbolType": "stroke",
      "symbolSize": 10000,
      "symbolStrokeWidth": 6.5,
      "rowPadding": 4
    }
  }
}
